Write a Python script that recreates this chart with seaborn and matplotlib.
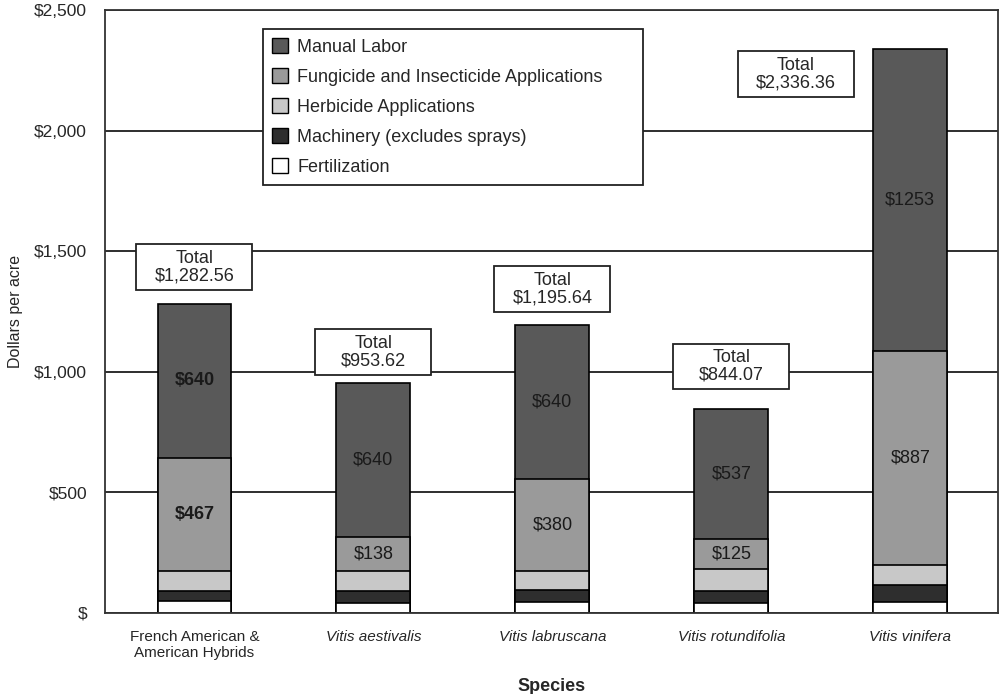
import matplotlib
matplotlib.use("Agg")
import matplotlib.pyplot as plt
from matplotlib.patches import Patch, Rectangle
import numpy as np
import pandas as pd
import seaborn as sns

# data (dollars per acre)
species = ["French American &\nAmerican Hybrids", "Vitis aestivalis", "Vitis labruscana",
           "Vitis rotundifolia", "Vitis vinifera"]
fertilization = [51, 42, 47, 43, 46]
machinery = [41, 50, 47, 48, 70]
herbicide = [83.56, 83.62, 81.64, 91.07, 84.36]
fungicide = [467, 138, 380, 125, 887]
manual_labor = [640, 640, 640, 537, 1253]
totals = [1282.56, 953.62, 1195.64, 844.07, 2336.36]

series_names = ["Fertilization", "Machinery (excludes sprays)", "Herbicide Applications",
                "Fungicide and Insecticide Applications", "Manual Labor"]
colors = {"Fertilization": "#ffffff", "Machinery (excludes sprays)": "#2e2e2e",
          "Herbicide Applications": "#c8c8c8",
          "Fungicide and Insecticide Applications": "#9a9a9a", "Manual Labor": "#595959"}

# where the "Total" boxes sit (x in category units, y in dollars)
box_x = [0, 1, 2, 3, 3.36]
box_y = [1434, 1082, 1343, 1022, 2235]

sns.set_style("white")
plt.rcParams["font.family"] = ["Liberation Sans", "DejaVu Sans"]

df = pd.DataFrame({"species": species, "Fertilization": fertilization,
                   "Machinery (excludes sprays)": machinery,
                   "Herbicide Applications": herbicide,
                   "Fungicide and Insecticide Applications": fungicide,
                   "Manual Labor": manual_labor})
cum = df[series_names].cumsum(axis=1)

fig = plt.figure(figsize=(10.01, 6.94), dpi=100)
ax = fig.add_axes([105 / 1001, 1 - 613 / 694, 893 / 1001, 603 / 694])

# stacked bars: draw the cumulative heights from the top layer down
for name in reversed(series_names):
    sns.barplot(x=df["species"], y=cum[name], color=colors[name], edgecolor="black",
                linewidth=1.2, width=0.413, saturation=1, ax=ax, zorder=2)

ax.set_xlim(-0.5, 4.49)
ax.set_ylim(0, 2500)
ax.set_yticks(np.arange(0, 2501, 500))
ax.set_yticklabels(["$"] + [f"${v:,}" for v in range(500, 2501, 500)], fontsize=12.5)
ax.yaxis.grid(True, color="#1e1e1e", linewidth=1.3)
ax.set_axisbelow(True)
ax.tick_params(axis="y", length=9, width=1.2, color="#333333", pad=4)
ax.tick_params(axis="x", length=0, pad=12)
for s in ax.spines.values():
    s.set_color("#333333")
    s.set_linewidth(1.3)

ax.set_xticks(range(len(species)))
ax.set_xticklabels(species, fontsize=11)
for i, lab in enumerate(ax.get_xticklabels()):
    lab.set_verticalalignment("top")
    if i > 0:
        lab.set_fontstyle("italic")

ax.set_xlabel("Species", fontsize=13, fontweight="bold", labelpad=13)
ax.set_ylabel("Dollars per acre", fontsize=11.5, labelpad=8)

# segment value labels
for i in range(len(species)):
    weight = "bold" if i == 0 else "normal"
    fung_mid = cum["Herbicide Applications"][i] + fungicide[i] / 2
    man_mid = cum["Fungicide and Insecticide Applications"][i] + manual_labor[i] / 2
    ax.text(i, fung_mid, f"${fungicide[i]}", ha="center", va="center", fontsize=13,
            color="#1a1a1a", fontweight=weight, zorder=4)
    ax.text(i, man_mid, f"${manual_labor[i]}", ha="center", va="center", fontsize=13,
            color="#1a1a1a", fontweight=weight, zorder=4)

# total boxes
for bx, by, t in zip(box_x, box_y, totals):
    ax.add_patch(Rectangle((bx - 0.324, by - 95), 0.648, 190, facecolor="white",
                           edgecolor="#222222", linewidth=1.3, zorder=5))
    ax.text(bx, by, f"Total\n${t:,.2f}", ha="center", va="center", fontsize=13,
            linespacing=1.05, zorder=6)

handles = [Patch(facecolor=colors[n], edgecolor="black", linewidth=1) for n in reversed(series_names)]
leg = ax.legend(handles, list(reversed(series_names)), loc="upper left",
                bbox_to_anchor=(0.177, 0.5, 0.425, 0.468), mode="expand", borderaxespad=0,
                fontsize=13, handlelength=0.9, handleheight=0.9, handletextpad=0.5,
                labelspacing=0.68, frameon=True, fancybox=False, framealpha=1, borderpad=0.5)
leg.get_frame().set_edgecolor("#222222")
leg.get_frame().set_linewidth(1.3)
leg.set_zorder(7)

fig.savefig("out.png", dpi=100)
